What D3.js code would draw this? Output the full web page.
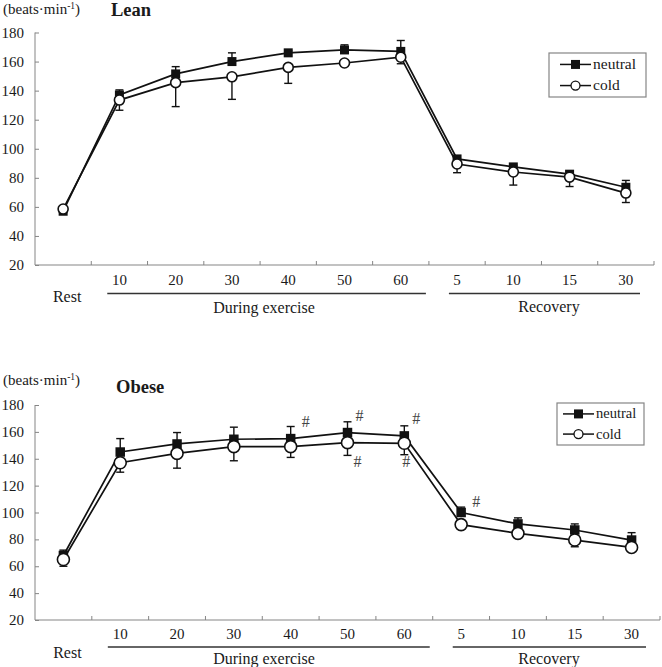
<!DOCTYPE html>
<html>
<head>
<meta charset="utf-8">
<script src="https://cdn.jsdelivr.net/npm/d3@7"></script>
<style>
  html, body { margin: 0; padding: 0; background: #fff; }
  svg { display: block; }
</style>
</head>
<body>
<svg id="chart" width="662" height="667"></svg>
<script>
// ---- data ----
const categories = ["Rest", "10", "20", "30", "40", "50", "60", "5", "10", "15", "30"];
const yTicks = [20, 40, 60, 80, 100, 120, 140, 160, 180];
const seriesNames = ["neutral", "cold"];

// Lean
const leanNeutral   = [57, 137, 151.5, 160, 166, 168, 167, 93, 87.5, 82.5, 73.5];
const leanNeutralSD = [1, 3.5, 5, 6, 1.5, 3.5, 7.5, 1, 1, 1.5, 4.7];
const leanCold      = [58.5, 133.5, 145.5, 149.5, 156, 159, 163, 89.5, 84, 80.5, 69.5];
const leanColdSD    = [1, 7, 16.5, 15.5, 11, 1.5, 4.5, 6, 9, 6.5, 6.5];

// Obese
const obeseNeutral   = [68, 145, 151, 154.5, 155, 159.5, 157, 100, 91.5, 87, 79.5];
const obeseNeutralSD = [4, 10, 8.5, 9, 9, 8, 7.5, 4, 4.5, 4.5, 5.5];
const obeseCold      = [65, 137, 144, 149, 149, 152, 151.5, 91, 84.5, 79.5, 74];
const obeseColdSD    = [5, 7, 11, 10.5, 8, 9.5, 8.5, 2, 1.5, 5, 1];
const obeseHashNeutral = [4, 5, 6, 7];   // '#' above neutral points
const obeseHashCold    = [5, 6];         // '#' below cold points

const groupLabels = ["Rest", "During exercise", "Recovery"];

// ---- drawing ----
const FONT = '"Liberation Serif"';
const svg = d3.select("#chart");
const axisColor = "#858585";
const txtColor = "#1a1a1a";

function T(sel) { return sel.style("font-family", FONT).attr("fill", txtColor); }

function drawPanel(opt) {
  const g = svg.append("g");
  const idx = d3.range(categories.length);
  const x = d3.scaleBand().domain(idx).range([opt.x0, opt.x1]).padding(0);
  const y = d3.scaleLinear().domain([20, 180]).range([opt.yBottom, opt.yTop]);
  const o = opt.off;

  // unit + title
  const unit = T(g.append("text")).attr("x", 3).attr("y", opt.unitY).attr("font-size", 15);
  unit.append("tspan").text("(beats·min");
  unit.append("tspan").attr("font-size", 9.5).attr("dy", -5).text("-1");
  unit.append("tspan").attr("dy", 5).text(")");
  T(g.append("text")).attr("x", opt.titleX).attr("y", opt.titleY)
    .attr("font-size", 18.5).attr("font-weight", "bold").text(opt.title);

  // y axis
  const yAxis = d3.axisRight(y).tickValues(yTicks).tickSize(4).tickFormat("");
  const ya = g.append("g").attr("transform", `translate(${opt.x0},0)`).call(yAxis);
  ya.select(".domain").attr("stroke", axisColor).attr("d", `M0,${opt.yBottom}V${opt.yTop}`);
  ya.selectAll(".tick line").attr("stroke", axisColor);
  T(g.selectAll(".ylab").data(yTicks).join("text"))
    .attr("x", 24).attr("y", d => y(d) + 5).attr("text-anchor", "end")
    .attr("font-size", 15).text(d => d);

  // x axis
  const xa = g.append("g").attr("transform", `translate(0,${opt.yBottom})`);
  xa.append("line").attr("x1", opt.x0).attr("x2", opt.x1).attr("y1", 0).attr("y2", 0)
    .attr("stroke", axisColor);
  xa.selectAll(".xt").data(idx).join("line")
    .attr("x1", d => x(d) + x.bandwidth()).attr("x2", d => x(d) + x.bandwidth())
    .attr("y1", 0).attr("y2", -4).attr("stroke", axisColor);
  T(g.selectAll(".xlab").data(idx.slice(1)).join("text"))
    .attr("x", d => x(d) + x.bandwidth() / 2).attr("y", opt.yBottom + o.tick)
    .attr("text-anchor", "middle").attr("font-size", 15).text(d => categories[d]);

  // group labels
  const lineY = opt.yBottom + o.line;
  g.append("line").attr("x1", x(1) + 16).attr("x2", x(7) - 3).attr("y1", lineY).attr("y2", lineY)
    .attr("stroke", "#333").attr("stroke-width", 1.3);
  g.append("line").attr("x1", x(7) + 20).attr("x2", x(10) + x.bandwidth() - 14).attr("y1", lineY).attr("y2", lineY)
    .attr("stroke", "#333").attr("stroke-width", 1.3);
  T(g.append("text")).attr("x", x(0) + x.bandwidth() / 2 + 4).attr("y", opt.yBottom + o.rest)
    .attr("text-anchor", "middle").attr("font-size", 16).text(groupLabels[0]);
  T(g.append("text")).attr("x", 264).attr("y", opt.yBottom + o.during)
    .attr("text-anchor", "middle").attr("font-size", 16).text(groupLabels[1]);
  T(g.append("text")).attr("x", 549).attr("y", opt.yBottom + o.recovery)
    .attr("text-anchor", "middle").attr("font-size", 16).text(groupLabels[2]);

  const cx = i => x(i) + x.bandwidth() / 2;
  const line = d3.line().x((d, i) => cx(i)).y(d => y(d));

  // series lines
  g.append("path").datum(opt.neutral).attr("d", line).attr("fill", "none")
    .attr("stroke", "#111").attr("stroke-width", 1.7);
  g.append("path").datum(opt.cold).attr("d", line).attr("fill", "none")
    .attr("stroke", "#111").attr("stroke-width", 1.7);

  // error bars: neutral up, cold down
  const cap = 4;
  opt.neutral.forEach((v, i) => {
    const top = y(v + opt.neutralSD[i]);
    g.append("line").attr("x1", cx(i)).attr("x2", cx(i)).attr("y1", y(v)).attr("y2", top)
      .attr("stroke", "#111").attr("stroke-width", 1.4);
    g.append("line").attr("x1", cx(i) - cap).attr("x2", cx(i) + cap).attr("y1", top).attr("y2", top)
      .attr("stroke", "#111").attr("stroke-width", 1.4);
  });
  opt.cold.forEach((v, i) => {
    const bot = y(v - opt.coldSD[i]);
    g.append("line").attr("x1", cx(i)).attr("x2", cx(i)).attr("y1", y(v)).attr("y2", bot)
      .attr("stroke", "#111").attr("stroke-width", 1.4);
    g.append("line").attr("x1", cx(i) - cap).attr("x2", cx(i) + cap).attr("y1", bot).attr("y2", bot)
      .attr("stroke", "#111").attr("stroke-width", 1.4);
  });

  // markers
  const sq = opt.sq;
  g.selectAll(".sq").data(opt.neutral).join("rect")
    .attr("x", (d, i) => cx(i) - sq / 2).attr("y", d => y(d) - sq / 2)
    .attr("width", sq).attr("height", sq).attr("fill", "#111");
  g.selectAll(".ci").data(opt.cold).join("circle")
    .attr("cx", (d, i) => cx(i)).attr("cy", d => y(d)).attr("r", opt.r)
    .attr("fill", "#fff").attr("stroke", "#111").attr("stroke-width", 1.6);

  // significance marks
  if (opt.hashN) {
    opt.hashN.forEach(i => {
      const dx = i === 7 ? 15 : (i === 4 ? 15 : 12);
      const dy = i === 7 ? -6 : -12;
      g.append("text").style("font-family", FONT).attr("fill", "#444")
        .attr("x", cx(i) + dx).attr("y", y(opt.neutral[i]) + dy)
        .attr("text-anchor", "middle").attr("font-size", 16).text("#");
    });
    opt.hashC.forEach(i => {
      const dx = i === 6 ? 2 : 10;
      g.append("text").style("font-family", FONT).attr("fill", "#444")
        .attr("x", cx(i) + dx).attr("y", y(opt.cold[i]) + 24)
        .attr("text-anchor", "middle").attr("font-size", 16).text("#");
    });
  }

  // legend
  const L = opt.legend;
  const lg = g.append("g");
  lg.append("rect").attr("x", L.x).attr("y", L.y).attr("width", L.w).attr("height", L.h)
    .attr("fill", "#fff").attr("stroke", axisColor).attr("stroke-width", 1.2);
  seriesNames.forEach((name, k) => {
    const ry = L.y + L.h * (k === 0 ? 0.26 : 0.74);
    const lx0 = L.x + L.pad, lx1 = L.x + L.pad + 31, mx = (lx0 + lx1) / 2;
    lg.append("line").attr("x1", lx0).attr("x2", lx1).attr("y1", ry).attr("y2", ry)
      .attr("stroke", "#111").attr("stroke-width", 1.5);
    if (k === 0) {
      lg.append("rect").attr("x", mx - 4.5).attr("y", ry - 4.5).attr("width", 9).attr("height", 9).attr("fill", "#111");
    } else {
      lg.append("circle").attr("cx", mx).attr("cy", ry).attr("r", 4.5).attr("fill", "#fff")
        .attr("stroke", "#111").attr("stroke-width", 1.3);
    }
    T(lg.append("text")).attr("x", lx1 + 2).attr("y", ry + 4.5).attr("font-size", L.fs).text(name);
  });
}

drawPanel({
  title: "Lean", titleX: 111, titleY: 16, unitY: 14,
  x0: 35, x1: 654, yTop: 32.5, yBottom: 265,
  off: { tick: 19.5, line: 28.5, rest: 37, during: 48, recovery: 46.5 },
  neutral: leanNeutral, neutralSD: leanNeutralSD, cold: leanCold, coldSD: leanColdSD,
  sq: 9, r: 5,
  legend: { x: 549, y: 53, w: 97, h: 44, pad: 11, fs: 15.5 }
});

drawPanel({
  title: "Obese", titleX: 116, titleY: 393, unitY: 385,
  x0: 35, x1: 660, yTop: 405, yBottom: 620,
  off: { tick: 19, line: 27, rest: 38, during: 44, recovery: 44 },
  neutral: obeseNeutral, neutralSD: obeseNeutralSD, cold: obeseCold, coldSD: obeseColdSD,
  sq: 9.5, r: 6,
  hashN: obeseHashNeutral, hashC: obeseHashCold,
  legend: { x: 557, y: 403, w: 87, h: 42, pad: 6, fs: 14.5 }
});
</script>
</body>
</html>
